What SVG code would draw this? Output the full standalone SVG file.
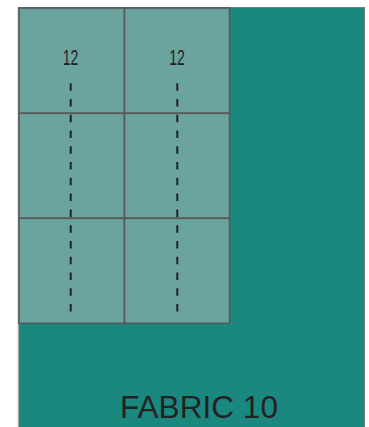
<svg xmlns="http://www.w3.org/2000/svg" width="369" height="427" viewBox="0 0 369 427">
<style>
.fabric{fill:#1b8880;stroke:#7a7a7a;stroke-width:1}
.cell{fill:#6ba49f;stroke:#585858;stroke-width:1.6}
.cut{stroke:#222;stroke-width:2;stroke-dasharray:7.5 8.26;fill:none}
.num{font-family:"Liberation Sans",Arial,sans-serif;font-size:22.5px;fill:#222;text-anchor:middle}
.title{font-family:"Liberation Sans",Arial,sans-serif;font-size:31px;fill:#222}
</style>
<rect width="369" height="427" fill="#ffffff"/>
<g id="fabric">
<rect class="fabric" x="18.5" y="7.5" width="346" height="425"/>
<line x1="18" y1="7" x2="18" y2="427" stroke="#d8cfcf" stroke-width="1"/>
</g>
<g id="cell-1-1"><rect class="cell" x="19" y="8" width="105.5" height="105.3"/></g>
<g id="cell-1-2"><rect class="cell" x="124.5" y="8" width="105" height="105.3"/></g>
<g id="cell-2-1"><rect class="cell" x="19" y="113.3" width="105.5" height="105"/></g>
<g id="cell-2-2"><rect class="cell" x="124.5" y="113.3" width="105" height="105"/></g>
<g id="cell-3-1"><rect class="cell" x="19" y="218.3" width="105.5" height="105"/></g>
<g id="cell-3-2"><rect class="cell" x="124.5" y="218.3" width="105" height="105"/></g>
<g id="connectors">
<line class="cut" x1="70.7" y1="83.3" x2="70.7" y2="313"/>
<line class="cut" x1="177.3" y1="83.3" x2="177.3" y2="313"/>
</g>
<g id="labels">
<text class="num" x="70.5" y="65" textLength="15.6" lengthAdjust="spacingAndGlyphs">12</text>
<text class="num" x="177" y="65" textLength="15.6" lengthAdjust="spacingAndGlyphs">12</text>
<text class="title" x="120" y="418.3" textLength="158" lengthAdjust="spacingAndGlyphs">FABRIC 10</text>
</g>
</svg>
